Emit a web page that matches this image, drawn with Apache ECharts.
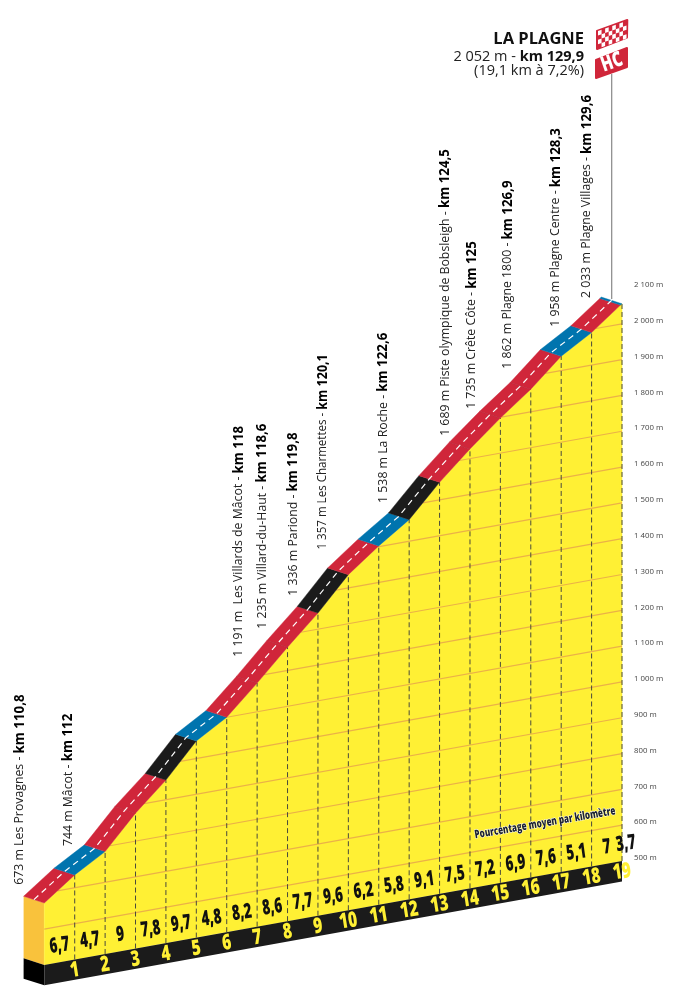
<!DOCTYPE html>
<html>
<head>
<meta charset="utf-8">
<style>html,body{margin:0;padding:0;background:#fff}#c{width:676px;height:1000px}</style>
<script src="https://cdn.jsdelivr.net/npm/echarts@6/dist/echarts.min.js"></script>
</head>
<body>
<div id="c"></div>
<script>
// ---- data ----
const profileKm  = [0,1,2,3,4,5,6,7,8,9,10,11,12,13,14,15,16,17,18,18.95,19];
const profileAlt = [673,736,786,878,955,1049,1100,1180,1265,1345,1437,1502,1560,1649,1727,1798,1863,1940,1991,2053,2056];
const segmentKind = ['red','blue','red','red','black','blue','red','red','red','black','red','blue','black','red','red','red','red','blue','red','blue'];
const kmNumbers = [1,2,3,4,5,6,7,8,9,10,11,12,13,14,15,16,17,18,19];
const gradients = ['6,7','4,7','9','7,8','9,7','4,8','8,2','8,6','7,7','9,6','6,2','5,8','9,1','7,5','7,2','6,9','7,6','5,1','7','3,7'];
const gradientKm = [0.5,1.5,2.5,3.5,4.5,5.5,6.5,7.5,8.5,9.5,10.5,11.5,12.5,13.5,14.5,15.5,16.5,17.5,18.5,19.13];
const gridAlts = [600,700,800,900,1000,1100,1200,1300,1400,1500,1600,1700,1800,1900,2000];
const placeNames = ['673 m Les Provagnes - ','744 m Mâcot - ','1 191 m  Les Villards de Mâcot - ','1 235 m Villard-du-Haut - ','1 336 m Pariond - ','1 357 m Les Charmettes - ','1 538 m La Roche - ','1 689 m Piste olympique de Bobsleigh - ','1 735 m Crête Côte - ','1 862 m Plagne 1800 - ','1 958 m Plagne Centre - ','2 033 m Plagne Villages - '];
const placeKm = ['km 110,8','km 112','km 118','km 118,6','km 119,8','km 120,1','km 122,6','km 124,5','km 125','km 126,9','km 128,3','km 129,6'];
const labelAtKm  = [-0.8,0.78,6.4,7.18,8.19,9.16,11.14,13.18,14.06,15.25,16.82,17.84];
const labelAtAlt = [736,820,1263,1329,1406,1520,1620,1776,1838,1932,2025,2090];
const labelFit   = [1,1,1,1,1,0.94,1,1,1,1,1,1];
const summitName = 'LA PLAGNE';
const summitLine1 = '2 052 m - ';
const summitKm = 'km 129,9';
const summitLine2 = '(19,1 km à 7,2%)';
const caption = 'Pourcentage moyen par kilomètre';

// ---- style ----
const FONT = '"Open Sans", "Noto Sans", sans-serif';
const COLORS = {red:'#d0263a', blue:'#0074ae', black:'#1b1b1b'};
const YELLOW = '#fff034';
const SHEAR = 5.47, LIFT = 3;
const DEPTH = [-20.7,-6.7];
const BASE = 500, FOOT = 443;

function P(api, km, alt){
  const c = api.coord([km, alt]);
  return [c[0], c[1] + LIFT + (19 - km) * SHEAR];
}
function back(p, f){ f = f === undefined ? 1 : f; return [p[0] + DEPTH[0]*f, p[1] + DEPTH[1]*f]; }
function crossing(alt){
  for (let i = 0; i < profileKm.length - 1; i++) {
    if (profileAlt[i] <= alt && profileAlt[i+1] >= alt) {
      return profileKm[i] + (alt - profileAlt[i]) / (profileAlt[i+1] - profileAlt[i]) * (profileKm[i+1] - profileKm[i]);
    }
  }
  return 0;
}
const segments = profileKm.slice(0,-1).map((k,i)=>[k,profileAlt[i],profileKm[i+1],profileAlt[i+1],i]);

const series = [];
// left face
series.push({type:'custom', coordinateSystem:'cartesian2d', clip:false, silent:true, data:[[0,profileAlt[0]]],
  renderItem(p,api){
    const a=P(api,api.value(0),api.value(1)), b=P(api,api.value(0),BASE), c=P(api,api.value(0),FOOT);
    return {type:'group',children:[
      {type:'polygon',shape:{points:[back(a),a,b,back(b)]},style:{fill:'#f9c23c'}},
      {type:'polygon',shape:{points:[back(b),b,c,back(c)]},style:{fill:'#000'}}
    ]};
  }});
// yellow body + foot
series.push({type:'custom', coordinateSystem:'cartesian2d', clip:false, silent:true, data:segments,
  renderItem(p,api){
    const k0=api.value(0),a0=api.value(1),k1=api.value(2),a1=api.value(3);
    return {type:'polygon',shape:{points:[P(api,k0,a0),P(api,k1,a1),P(api,k1,BASE),P(api,k0,BASE)]},
      style:{fill:YELLOW,stroke:YELLOW,lineWidth:0.5}};
  }});
series.push({type:'custom', coordinateSystem:'cartesian2d', clip:false, silent:true, data:[[0,19]],
  renderItem(p,api){
    const k0=api.value(0),k1=api.value(1);
    return {type:'polygon',shape:{points:[P(api,k0,BASE),P(api,k1,BASE),P(api,k1,FOOT),P(api,k0,FOOT)]},style:{fill:'#1b1b1b'}};
  }});
// grid lines
series.push({type:'custom', coordinateSystem:'cartesian2d', clip:false, silent:true, data:gridAlts.map(a=>[a]),
  renderItem(p,api){
    const a=api.value(0);
    const s=P(api,crossing(a),a), e=P(api,19,a);
    return {type:'line',shape:{x1:s[0],y1:s[1],x2:e[0],y2:e[1]},style:{stroke:'#ebb148',lineWidth:1.2}};
  }});
// dashed km verticals
series.push({type:'custom', coordinateSystem:'cartesian2d', clip:false, silent:true,
  data:profileKm.map((k,i)=>[k,profileAlt[i]]).filter(d=>d[0]>0 && Number.isInteger(d[0])),
  renderItem(p,api){
    const s=P(api,api.value(0),BASE), e=P(api,api.value(0),api.value(1));
    return {type:'line',shape:{x1:s[0],y1:s[1],x2:e[0],y2:e[1]},style:{stroke:'#4a4a3a',lineWidth:1,lineDash:[5,3]}};
  }});
// road
series.push({type:'custom', coordinateSystem:'cartesian2d', clip:false, silent:true, data:segments,
  renderItem(p,api){
    const a=P(api,api.value(0),api.value(1)), b=P(api,api.value(2),api.value(3));
    const i=api.value(4), col=COLORS[segmentKind[i]];
    const ch=[{type:'polygon',shape:{points:[a,b,back(b),back(a)]},style:{fill:col,stroke:col,lineWidth:0.4}}];
    if(i>0 && segmentKind[i-1]===segmentKind[i]){
      const q=back(a);
      ch.push({type:'line',shape:{x1:a[0],y1:a[1],x2:q[0],y2:q[1]},style:{stroke:'#b92a3a',lineWidth:0.6}});
    }
    return {type:'group',children:ch};
  }});
// centre dashes
series.push({type:'custom', coordinateSystem:'cartesian2d', clip:false, silent:true,
  data:profileKm.map((k,i)=>[k,profileAlt[i]]),
  renderItem(p,api){
    if(p.dataIndex!==0) return null;
    const pts=profileKm.map((k,i)=>back(P(api,k,profileAlt[i]),0.5));
    return {type:'polyline',shape:{points:pts},style:{stroke:'#fff',fill:'none',lineWidth:1.2,lineDash:[6,4.5]}};
  }});
// km numbers
series.push({type:'custom', coordinateSystem:'cartesian2d', clip:false, silent:true, data:kmNumbers.map(k=>[k]),
  renderItem(p,api){
    const k=api.value(0), c=P(api,k,469);
    return {type:'text',x:c[0],y:c[1],rotation:0.16,scaleX:0.72,
      style:{text:String(k),fill:YELLOW,font:'800 21.5px '+FONT,align:'center',verticalAlign:'middle'}};
  }});
// gradients
series.push({type:'custom', coordinateSystem:'cartesian2d', clip:false, silent:true, data:gradientKm.map((k,i)=>[k,i]),
  renderItem(p,api){
    const c=P(api,api.value(0),546);
    return {type:'text',x:c[0],y:c[1],rotation:0.14,scaleX:0.64,
      style:{text:gradients[api.value(1)],fill:'#111',font:'800 21px '+FONT,align:'center',verticalAlign:'middle'}};
  }});
// place labels
series.push({type:'custom', coordinateSystem:'cartesian2d', clip:false, silent:true, data:labelAtKm.map((k,i)=>[k,labelAtAlt[i],i]),
  renderItem(p,api){
    const c=P(api,api.value(0),api.value(1)), i=api.value(2);
    return {type:'text',x:c[0],y:c[1],rotation:Math.PI/2,scaleX:labelFit[i],
      style:{text:'{a|'+placeNames[i]+'}{b|'+placeKm[i]+'}',align:'left',verticalAlign:'middle',
        rich:{a:{font:'400 12.3px '+FONT,fill:'#222',color:'#222'},b:{font:'700 13.3px '+FONT,fill:'#000',color:'#000'}}}};
  }});

// flags
const graphics = [];
const fq=(tl,tr,bl,u,v)=>[tl[0]+(tr[0]-tl[0])*u+(bl[0]-tl[0])*v, tl[1]+(tr[1]-tl[1])*u+(bl[1]-tl[1])*v];
const flagStyle={fill:'#d0263a',stroke:'#d0263a',lineWidth:2,lineJoin:'round'};
graphics.push({type:'polygon',z:20,shape:{points:[[597,31],[627.3,20],[627,37.5],[597,49]]},style:flagStyle});
const TL=[598,31],TR=[626.5,21],BL=[598,48.5];
for(let r=0;r<4;r++)for(let c=0;c<8;c++){ if((r+c)%2) continue;
  const u0=c/8,u1=(c+1)/8,v0=r/4,v1=(r+1)/4;
  graphics.push({type:'polygon',z:21,shape:{points:[fq(TL,TR,BL,u0,v0),fq(TL,TR,BL,u1,v0),fq(TL,TR,BL,u1,v1),fq(TL,TR,BL,u0,v1)]},style:{fill:'#fff'}});
}
graphics.push({type:'polygon',z:20,shape:{points:[[596,60],[627,48],[627,67],[596,78]]},style:flagStyle});
graphics.push({type:'text',z:21,x:612,y:62.5,rotation:0.33,scaleX:0.72,style:{text:'HC',fill:'#fff',font:'800 21px '+FONT,align:'center',verticalAlign:'middle'}});
graphics.push({type:'line',z:19,shape:{x1:611.7,y1:74,x2:611.7,y2:299},style:{stroke:'#888',lineWidth:1.2}});
// summit text
graphics.push({type:'text',x:584,y:39,style:{text:summitName,fill:'#111',font:'700 16.5px '+FONT,align:'right',verticalAlign:'middle'}});
graphics.push({type:'text',x:584,y:57,style:{text:'{a|'+summitLine1+'}{b|'+summitKm+'}',align:'right',verticalAlign:'middle',
  rich:{a:{font:'400 14.5px '+FONT,fill:'#222',color:'#222'},b:{font:'700 14.5px '+FONT,fill:'#111',color:'#111'}}}});
graphics.push({type:'text',x:584,y:71,style:{text:summitLine2,fill:'#222',font:'400 14.5px '+FONT,align:'right',verticalAlign:'middle'}});
graphics.push({type:'text',z:30,x:545,y:823,rotation:0.17,scaleX:0.7,style:{text:caption,fill:'#1c2233',font:'800 11.5px '+FONT,align:'center',verticalAlign:'middle',stroke:'#fff',lineWidth:1}});

const chart = echarts.init(document.getElementById('c'), null, {renderer:'canvas'});
chart.setOption({
  animation:false,
  backgroundColor:'#fff',
  grid:{left:44.3,top:285,width:577.7,height:573,containLabel:false},
  xAxis:{type:'value',min:0,max:19,show:false},
  yAxis:{type:'value',position:'right',min:500,max:2100,interval:100,
    axisLine:{show:false},axisTick:{show:false},splitLine:{show:false},
    axisLabel:{margin:12,color:'#444',fontSize:7.8,fontFamily:FONT,padding:[2,0,0,0],
      formatter:v=>(v>=1000?Math.floor(v/1000)+' '+String(v%1000).padStart(3,'0'):v)+' m'}},
  graphic:graphics,
  series:series
});
</script>
</body>
</html>
